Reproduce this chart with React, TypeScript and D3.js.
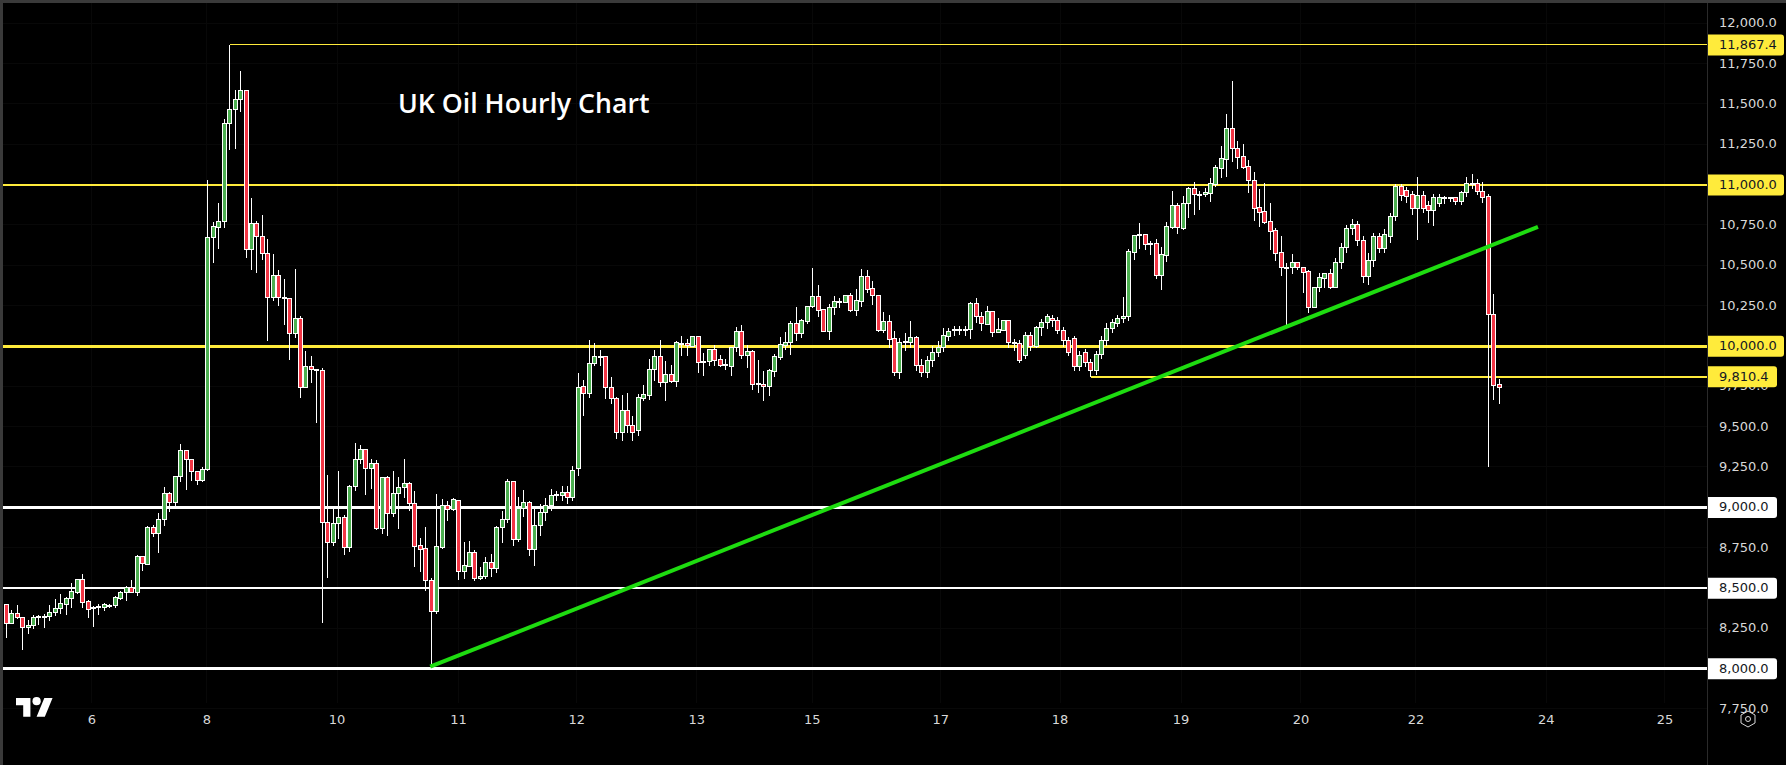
import { useEffect, useRef } from "react";
import * as d3 from "d3";

const WIDTH = 1786;
const HEIGHT = 765;
const AXIS_X = 1707;
const LEVEL_NUDGE = 0.8; // level lines and tags sit a bit under the candle scale

// hourly bars
const opens = [
  8397,8277,8339,8315,8253,8265,8319,8323,8321,8350,
  8370,8399,8432,8474,8550,8416,8378,8381,8377,8393,
  8393,8436,8470,8505,8474,8693,8647,8873,8840,8922,
  9083,9032,9189,9350,9298,9224,9168,9232,10675,10737,
  10770,11377,11464,11526,11582,10596,10757,10677,10571,10303,
  10435,10298,10292,10075,10168,9741,9871,9852,9846,8904,
  8784,8897,8939,8753,9127,9294,9356,9238,9269,8870,
  9183,8959,9083,9120,9145,9021,8761,8742,8546,8354,
  8753,9009,8984,9040,8604,8635,8718,8556,8569,8656,
  8618,8873,8922,9158,8802,8994,9027,8740,8887,8968,
  9011,9073,9073,9092,9061,9240,9747,9703,9889,9933,
  9933,9741,9676,9464,9600,9507,9476,9676,9695,9852,
  9933,9776,9821,9782,10016,10013,9999,10057,9902,9906,
  9976,9914,9883,9875,9989,10088,9943,9964,9765,9759,
  9747,9844,9931,10005,10018,10137,10079,10154,10243,10305,
  10224,10092,10235,10274,10272,10311,10222,10278,10429,10354,
  10311,10098,10150,10044,9836,10024,10024,10050,9879,9836,
  9910,9960,9991,10061,10096,10102,10104,10104,10261,10185,
  10135,10212,10082,10098,10156,10022,10013,9941,10067,9999,
  10113,10146,10170,10160,10096,10034,10046,9873,9960,9898,
  9848,9947,10034,10108,10140,10170,10183,10581,10685,10689,
  10630,10633,10435,10563,10737,10869,10730,10885,10974,10941,
  10937,10947,11003,11102,11158,11348,11222,11173,11111,11028,
  10857,10832,10770,10714,10577,10487,10485,10516,10489,10460,
  10241,10359,10420,10447,10365,10516,10611,10728,10753,10654,
  10431,10530,10679,10604,10679,10803,10989,10964,10939,10852,
  10933,10871,10840,10883,10914,10917,10917,10896,10952,11007,
  11007,10958,10927,10195,9761,
];

const highs = [
  8405,8366,8397,8319,8302,8335,8335,8339,8397,8432,
  8465,8447,8532,8556,8587,8428,8391,8405,8408,8401,
  8453,8484,8515,8550,8707,8701,8887,8893,8968,9129,
  9098,9197,9395,9358,9300,9228,9253,11032,10772,10890,
  11408,11867.4,11588,11706,11588,10919,10776,10813,10664,10571,
  10474,10418,10298,10480,10189,9972,9941,9858,9865,9201,
  9011,9228,8953,9141,9400,9389,9356,9304,9296,9191,
  9197,9228,9191,9304,9160,9104,8815,8881,8567,9083,
  9052,9042,9061,9040,8788,8794,8738,8633,8695,8711,
  8887,8980,9176,9160,9067,9108,9042,8992,9023,9061,
  9116,9104,9135,9135,9259,9833,9790,10038,10022,9976,
  9933,9811,9687,9699,9712,9569,9705,9761,9920,9976,
  10040,9910,9885,10034,10065,10048,10065,10057,9960,9976,
  10009,9947,9922,9997,10121,10133,10009,9976,9916,9848,
  9858,9951,10059,10090,10158,10245,10168,10251,10487,10381,
  10224,10261,10313,10303,10319,10332,10356,10480,10474,10406,
  10311,10214,10195,10096,10050,10082,10158,10065,9922,9941,
  10003,10034,10112,10112,10127,10127,10127,10276,10301,10214,
  10251,10220,10175,10164,10164,10044,10040,10088,10088,10127,
  10170,10201,10195,10183,10121,10059,10065,9972,9984,9922,
  9972,10065,10146,10170,10195,10307,10604,10691,10766,10695,
  10654,10666,10617,10770,10964,10890,10933,10987,11020,10964,
  10985,11047,11125,11243,11441,11646,11274,11253,11156,11080,
  10974,11012,10890,10733,10685,10518,10573,10524,10493,10472,
  10369,10456,10456,10480,10549,10642,10753,10790,10778,10685,
  10580,10704,10704,10728,10828,11007,11007,10989,10964,11051,
  10964,10902,10945,10945,10933,10927,10927,10964,11051,11069,
  11038,11020,10945,10325,9798,
];

const lows = [
  8195,8277,8308,8118,8219,8250,8273,8257,8298,8329,
  8339,8335,8381,8467,8381,8319,8263,8335,8360,8381,
  8381,8428,8422,8474,8453,8608,8647,8821,8722,8887,
  8976,9001,9160,9112,9166,9141,9160,9228,10520,10606,
  10737,11220,11226,11456,10551,10472,10458,10538,10034,10282,
  10251,10135,9918,10050,9683,9741,9776,9528,8286,8567,
  8763,8804,8707,8728,9104,9273,9079,9118,8862,8839,
  8825,8945,8870,9063,8980,8635,8604,8484,8031,8340,
  8744,8918,8980,8552,8560,8635,8546,8550,8560,8571,
  8596,8784,8904,8763,8790,8943,8701,8639,8825,8918,
  8980,9042,9042,9023,9042,9197,9569,9680,9879,9879,
  9676,9640,9426,9414,9464,9414,9445,9660,9668,9786,
  9751,9662,9772,9751,9941,9941,9997,9833,9817,9879,
  9879,9873,9854,9817,9968,9922,9869,9730,9712,9660,
  9693,9813,9916,9978,9947,10034,10055,10137,10241,10183,
  10092,10042,10195,10241,10272,10216,10189,10247,10334,10257,
  10092,10086,9993,9817,9798,9972,9993,9848,9811,9805,
  9873,9935,9968,10034,10065,10071,10065,10048,10144,10096,
  10131,10059,10080,10096,9993,9972,9898,9922,9972,9993,
  10065,10108,10121,10077,9997,9941,9848,9848,9873,9810.4,
  9823,9922,10003,10084,10121,10146,10158,10536,10602,10598,
  10567,10420,10352,10526,10730,10699,10722,10797,10815,10846,
  10927,10896,10991,11045,11051,11144,11102,11098,10954,10778,
  10741,10759,10598,10530,10437,10117,10451,10474,10332,10210,
  10241,10340,10363,10358,10365,10480,10580,10691,10623,10394,
  10381,10493,10580,10580,10642,10778,10902,10890,10815,10660,
  10828,10766,10747,10865,10883,10896,10877,10877,10927,10976,
  10939,10890,9253,9668,9643,
];

const closes = [
  8277,8339,8315,8253,8265,8319,8323,8323,8350,8370,
  8401,8432,8476,8550,8412,8364,8381,8385,8395,8391,
  8439,8470,8505,8474,8693,8649,8875,8840,8922,9083,
  9032,9189,9350,9298,9224,9168,9232,10675,10739,10770,
  11377,11464,11526,11582,10596,10757,10677,10571,10303,10435,
  10299,10296,10075,10168,9741,9871,9852,9852,8904,8784,
  8897,8939,8753,9127,9294,9356,9238,9269,8870,9183,
  8959,9083,9120,9145,9021,8759,8740,8546,8354,8757,
  9009,8984,9046,8604,8637,8718,8556,8569,8656,8618,
  8873,8922,9158,8802,8994,9027,8740,8887,8968,9011,
  9073,9077,9092,9061,9228,9745,9703,9889,9935,9933,
  9741,9676,9464,9600,9507,9464,9681,9697,9852,9933,
  9776,9821,9780,10020,10016,10001,10057,9900,9904,9976,
  9912,9881,9883,9991,10088,9943,9964,9763,9765,9747,
  9846,9933,10007,10020,10137,10079,10156,10245,10305,10222,
  10092,10237,10276,10274,10311,10222,10280,10429,10352,10311,
  10098,10150,10042,9836,10020,10026,10050,9879,9836,9910,
  9960,9991,10063,10092,10104,10102,10104,10261,10185,10137,
  10212,10082,10100,10156,10020,10024,9910,10067,9999,10113,
  10146,10183,10158,10096,10034,9960,9873,9941,9898,9848,
  9947,10034,10108,10146,10170,10183,10584,10683,10689,10627,
  10633,10435,10565,10739,10869,10733,10885,10974,10941,10941,
  10950,11005,11105,11160,11348,11222,11171,11109,11028,10854,
  10830,10768,10712,10575,10489,10487,10516,10489,10458,10241,
  10361,10423,10447,10365,10516,10611,10728,10753,10654,10431,
  10530,10679,10604,10691,10803,10989,10933,10927,10852,10933,
  10852,10840,10921,10921,10917,10917,10896,10952,11007,11007,
  10958,10920,10195,9755,9743,
];

const priceTicks = d3.range(7750, 12001, 250);
const dayLabels = ["6", "8", "10", "11", "12", "13", "15", "17", "18", "19", "20", "22", "24", "25"];
const dayBars = [15.7, 36.8, 60.7, 83, 104.7, 126.7, 147.9, 171.5, 193.4, 215.6, 237.6, 258.7, 282.6, 304.4];

// horizontal levels: price, colour, thickness, first bar (null = whole width)
const levelPrices = [8000, 8500, 9000, 10000, 11000, 11867.4, 9810.4];
const levelColors = ["#ffffff", "#ffffff", "#ffffff", "#ffeb3b", "#ffeb3b", "#ffeb3b", "#ffeb3b"];
const levelWeights = [3, 2, 3, 3, 2, 1, 2];
const levelStarts = [null, null, null, null, null, 41, 199];

const trendBars = [77.8, 281.1];
const trendPrices = [8008, 10735];

const fmt = d3.format(",.1f");

export default function App() {
  const svgRef = useRef<SVGSVGElement>(null);

  useEffect(() => {
    if (!svgRef.current) return;
    const svg = d3.select(svgRef.current);
    svg.selectAll("*").remove();

    const x = d3.scaleLinear().domain([0, 274]).range([6.3, 1499.3]);
    const y = d3.scaleLinear().domain([8000, 12000]).range([668, 22.8]);
    const px = (i: number) => Math.floor(x(i)) + 0.5;
    const py = (p: number) => Math.round(y(p)) + 0.5;

    svg.append("rect").attr("width", WIDTH).attr("height", HEIGHT).attr("fill", "#000");

    // faint grid
    const grid = svg.append("g").attr("stroke", "#080808").attr("shape-rendering", "crispEdges");
    priceTicks.forEach((p) => {
      grid.append("line").attr("x1", 3).attr("x2", AXIS_X).attr("y1", py(p)).attr("y2", py(p));
    });
    dayBars.forEach((b) => {
      grid.append("line").attr("x1", px(b)).attr("x2", px(b)).attr("y1", 3).attr("y2", 703);
    });

    // levels sit under the candles
    const levels = svg.append("g").attr("shape-rendering", "crispEdges");
    levelPrices.forEach((p, i) => {
      const start = levelStarts[i];
      levels
        .append("line")
        .attr("x1", start === null ? 3 : px(start))
        .attr("x2", AXIS_X)
        .attr("y1", y(p) + LEVEL_NUDGE)
        .attr("y2", y(p) + LEVEL_NUDGE)
        .attr("stroke", levelColors[i])
        .attr("stroke-width", levelWeights[i]);
    });

    // candles
    const candles = svg.append("g").attr("shape-rendering", "crispEdges");
    opens.forEach((o, i) => {
      const c = closes[i];
      candles
        .append("line")
        .attr("x1", px(i))
        .attr("x2", px(i))
        .attr("y1", py(highs[i]))
        .attr("y2", py(lows[i]))
        .attr("stroke", "#ffffff");
      const top = py(Math.max(o, c));
      const bottom = py(Math.min(o, c));
      candles
        .append("rect")
        .attr("x", px(i) - 2)
        .attr("y", top)
        .attr("width", 4)
        .attr("height", Math.max(bottom - top, 1))
        .attr("fill", c >= o ? "#4caf50" : "#f23645")
        .attr("stroke", "#ffffff");
    });

    // trend line
    svg
      .append("line")
      .attr("x1", x(trendBars[0]))
      .attr("x2", x(trendBars[1]))
      .attr("y1", y(trendPrices[0]))
      .attr("y2", y(trendPrices[1]))
      .attr("stroke", "#1edc10")
      .attr("stroke-width", 4);

    // title
    svg
      .append("text")
      .attr("x", 398)
      .attr("y", 113)
      .attr("font-family", "'Open Sans', sans-serif")
      .attr("font-size", 26.7)
      .attr("font-weight", 600)
      .attr("fill", "#ffffff")
      .text("UK Oil Hourly Chart");

    // frame
    const frame = svg.append("g").attr("shape-rendering", "crispEdges");
    frame.append("rect").attr("width", WIDTH).attr("height", 3).attr("fill", "#3a3a3a");
    frame.append("rect").attr("width", 3).attr("height", HEIGHT).attr("fill", "#3a3a3a");
    frame
      .append("line")
      .attr("x1", AXIS_X + 0.5)
      .attr("x2", AXIS_X + 0.5)
      .attr("y1", 3)
      .attr("y2", HEIGHT)
      .attr("stroke", "#2a2a2a");

    // price axis
    const axis = svg
      .append("g")
      .attr("font-family", "'DejaVu Sans', sans-serif")
      .attr("font-size", 13);
    priceTicks.forEach((p) => {
      axis
        .append("text")
        .attr("x", 1719)
        .attr("y", y(p))
        .attr("dy", "0.36em")
        .attr("fill", "#d8d8d8")
        .text(fmt(p));
    });

    // level tags on top of the tick labels
    levelPrices.forEach((p, i) => {
      const label = fmt(p);
      const tagW = label.length > 7 ? 76 : 69;
      const g = axis.append("g").attr("transform", `translate(${AXIS_X + 1},${y(p) + LEVEL_NUDGE})`);
      g.append("path")
        .attr(
          "d",
          `M0,-10.5 H${tagW - 3} Q${tagW},-10.5 ${tagW},-7.5 V7.5 Q${tagW},10.5 ${tagW - 3},10.5 H0 Z`,
        )
        .attr("fill", levelColors[i] === "#ffffff" ? "#ffffff" : "#ffeb3b");
      g.append("text")
        .attr("x", 11)
        .attr("y", -LEVEL_NUDGE)
        .attr("dy", "0.36em")
        .attr("fill", "#131722")
        .text(label);
    });

    // time axis
    dayLabels.forEach((d, i) => {
      axis
        .append("text")
        .attr("x", x(dayBars[i]))
        .attr("y", 719)
        .attr("dy", "0.36em")
        .attr("text-anchor", "middle")
        .attr("fill", "#d8d8d8")
        .text(d);
    });

    // logo
    const logo = svg.append("g").attr("transform", "translate(16,694) scale(1.03)").attr("fill", "#ffffff");
    logo.append("path").attr("d", "M14 22H7V11H0V4h14v18zM28 22h-8l7.5-18h8L28 22z");
    logo.append("circle").attr("cx", 20).attr("cy", 7).attr("r", 4);

    // settings button in the corner
    const gear = svg
      .append("g")
      .attr("transform", "translate(1748,719)")
      .attr("fill", "none")
      .attr("stroke", "#d8d8d8");
    gear.append("path").attr("d", "M0,-8 L7,-4 V4 L0,8 L-7,4 V-4 Z");
    gear.append("circle").attr("r", 2.5);
  }, []);

  return (
    <svg
      ref={svgRef}
      width={WIDTH}
      height={HEIGHT}
      style={{ position: "absolute", left: 0, top: 0, display: "block" }}
    />
  );
}
